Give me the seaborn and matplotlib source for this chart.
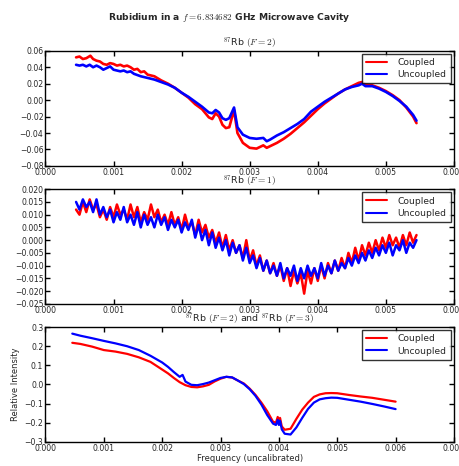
import numpy as np
import pandas as pd
import seaborn as sns
from matplotlib import pyplot as plt

# ---- F=2 panel ----
f2_x_cpl = [0.00045, 0.0005, 0.00055, 0.0006, 0.00066, 0.0007, 0.00075, 0.0008, 0.00085, 0.0009,
            0.00095, 0.001, 0.00105, 0.0011, 0.00115, 0.0012, 0.00125, 0.0013, 0.00135, 0.0014,
            0.00145, 0.0015, 0.0016, 0.0017, 0.0018, 0.0019, 0.002, 0.0021, 0.0022, 0.0023,
            0.00235, 0.0024, 0.00245, 0.0025, 0.00255, 0.0026, 0.00265, 0.0027, 0.00277, 0.00282,
            0.0029, 0.003, 0.0031, 0.0032, 0.00325, 0.0033, 0.0034, 0.0035, 0.0036, 0.0037,
            0.0038, 0.0039, 0.004, 0.0041, 0.0042, 0.0043, 0.0044, 0.0045, 0.0046, 0.00465,
            0.0047, 0.0048, 0.0049, 0.005, 0.0051, 0.0052, 0.0053, 0.0054, 0.00545]
f2_cpl = [0.052, 0.053, 0.050, 0.051, 0.054, 0.050, 0.048, 0.047, 0.044, 0.043,
          0.045, 0.044, 0.042, 0.043, 0.041, 0.042, 0.040, 0.037, 0.038, 0.034,
          0.035, 0.031, 0.029, 0.024, 0.020, 0.015, 0.009, 0.003, -0.005, -0.011,
          -0.016, -0.021, -0.023, -0.016, -0.020, -0.030, -0.034, -0.033, -0.012, -0.040,
          -0.052, -0.058, -0.059, -0.055, -0.058, -0.056, -0.052, -0.047, -0.041, -0.034,
          -0.027, -0.019, -0.011, -0.004, 0.002, 0.008, 0.013, 0.017, 0.021, 0.022,
          0.019, 0.018, 0.015, 0.011, 0.006, 0.000, -0.009, -0.020, -0.028]
f2_x_unc = [0.00045, 0.0005, 0.00055, 0.0006, 0.00065, 0.0007, 0.00075, 0.0008, 0.00085, 0.0009,
            0.00095, 0.001, 0.00105, 0.0011, 0.00115, 0.0012, 0.00125, 0.0013, 0.0014, 0.0015,
            0.0016, 0.0017, 0.0018, 0.0019, 0.002, 0.0021, 0.0022, 0.0023, 0.0024, 0.00245,
            0.0025, 0.00255, 0.0026, 0.00265, 0.0027, 0.00277, 0.00282, 0.0029, 0.003, 0.0031,
            0.0032, 0.00325, 0.0033, 0.0034, 0.0035, 0.0036, 0.0037, 0.0038, 0.0039, 0.004,
            0.0041, 0.0042, 0.0043, 0.0044, 0.0045, 0.0046, 0.00465, 0.0047, 0.0048, 0.0049,
            0.005, 0.0051, 0.0052, 0.0053, 0.0054, 0.00545]
f2_unc = [0.043, 0.042, 0.043, 0.041, 0.043, 0.040, 0.042, 0.040, 0.037, 0.039,
          0.041, 0.037, 0.036, 0.035, 0.036, 0.034, 0.035, 0.032, 0.029, 0.027,
          0.025, 0.022, 0.019, 0.015, 0.009, 0.004, -0.002, -0.008, -0.015, -0.016,
          -0.012, -0.015, -0.022, -0.024, -0.022, -0.009, -0.033, -0.042, -0.046, -0.047,
          -0.046, -0.050, -0.048, -0.043, -0.039, -0.034, -0.029, -0.023, -0.014, -0.008,
          -0.002, 0.003, 0.008, 0.013, 0.016, 0.018, 0.020, 0.017, 0.017, 0.014,
          0.010, 0.005, -0.001, -0.008, -0.018, -0.025]

# ---- F=1 panel (101 samples, 0.00045 .. 0.00545) ----
f1_x = [round(0.00045 + 0.00005 * i, 6) for i in range(101)]
f1_cpl = [0.012, 0.010, 0.015, 0.011, 0.016, 0.012, 0.014, 0.009, 0.012, 0.008,
          0.013, 0.009, 0.014, 0.010, 0.012, 0.008, 0.014, 0.009, 0.013, 0.007,
          0.011, 0.008, 0.014, 0.009, 0.012, 0.007, 0.010, 0.006, 0.011, 0.006,
          0.009, 0.004, 0.010, 0.005, 0.007, 0.002, 0.008, 0.003, 0.006, 0.001,
          0.004, -0.001, 0.003, -0.003, 0.002, -0.004, 0.000, -0.005, -0.002, -0.007,
          0.000, -0.008, -0.004, -0.010, -0.006, -0.012, -0.008, -0.013, -0.009, -0.014,
          -0.010, -0.016, -0.011, -0.018, -0.012, -0.017, -0.013, -0.021, -0.012, -0.017,
          -0.011, -0.016, -0.010, -0.015, -0.009, -0.013, -0.008, -0.012, -0.007, -0.011,
          -0.005, -0.009, -0.003, -0.008, -0.002, -0.006, -0.001, -0.005, 0.000, -0.004,
          0.001, -0.003, 0.002, -0.002, 0.001, -0.003, 0.002, -0.002, 0.003, -0.001,
          0.002]
f1_unc = [0.015, 0.012, 0.016, 0.013, 0.015, 0.011, 0.016, 0.010, 0.013, 0.009,
          0.012, 0.007, 0.011, 0.008, 0.013, 0.007, 0.010, 0.006, 0.011, 0.005,
          0.010, 0.006, 0.009, 0.005, 0.010, 0.006, 0.009, 0.004, 0.008, 0.005,
          0.008, 0.003, 0.007, 0.004, 0.008, 0.001, 0.006, 0.000, 0.004, -0.002,
          0.003, -0.003, 0.001, -0.004, 0.000, -0.006, -0.001, -0.005, -0.002, -0.008,
          -0.003, -0.009, -0.006, -0.011, -0.007, -0.012, -0.008, -0.013, -0.010, -0.014,
          -0.009, -0.015, -0.011, -0.014, -0.010, -0.016, -0.011, -0.015, -0.010, -0.014,
          -0.011, -0.015, -0.009, -0.014, -0.010, -0.013, -0.008, -0.012, -0.009, -0.011,
          -0.007, -0.010, -0.006, -0.009, -0.005, -0.008, -0.004, -0.007, -0.003, -0.006,
          -0.002, -0.005, -0.001, -0.006, -0.002, -0.004, 0.000, -0.005, -0.001, -0.003,
          0.000]

# ---- F=2 and F=3 panel ----
f23_x_cpl = [0.00046, 0.0006, 0.0008, 0.001, 0.0012, 0.0014, 0.0016, 0.0018, 0.002, 0.0021,
             0.0022, 0.0023, 0.0024, 0.0025, 0.0026, 0.0027, 0.0028, 0.0029, 0.003, 0.0031,
             0.0032, 0.0033, 0.0034, 0.0035, 0.0036, 0.0037, 0.0038, 0.0039, 0.00395, 0.00398,
             0.004, 0.00402, 0.00405, 0.0041, 0.0042, 0.0043, 0.0044, 0.0045, 0.0046, 0.0047,
             0.0048, 0.0049, 0.005, 0.0052, 0.0054, 0.0056, 0.0058, 0.006]
f23_cpl = [0.218, 0.212, 0.198, 0.180, 0.172, 0.160, 0.142, 0.118, 0.078, 0.058,
           0.034, 0.012, -0.004, -0.013, -0.015, -0.010, -0.002, 0.016, 0.030, 0.040,
           0.036, 0.020, 0.005, -0.022, -0.055, -0.095, -0.140, -0.195, -0.200, -0.170,
           -0.195, -0.175, -0.220, -0.237, -0.232, -0.180, -0.132, -0.095, -0.065, -0.052,
           -0.046, -0.045, -0.046, -0.055, -0.063, -0.070, -0.080, -0.090]
f23_x_unc = [0.00046, 0.0006, 0.0008, 0.001, 0.0012, 0.0014, 0.0016, 0.0018, 0.002, 0.0021,
             0.0022, 0.0023, 0.00235, 0.0024, 0.0025, 0.0026, 0.0027, 0.0028, 0.0029, 0.003,
             0.0031, 0.0032, 0.0033, 0.0034, 0.0035, 0.0036, 0.0037, 0.0038, 0.0039, 0.00395,
             0.00398, 0.004, 0.00402, 0.00405, 0.0041, 0.0042, 0.0043, 0.0044, 0.0045, 0.0046,
             0.0047, 0.0048, 0.0049, 0.005, 0.0052, 0.0054, 0.0056, 0.0058, 0.006]
f23_unc = [0.266, 0.255, 0.242, 0.228, 0.215, 0.200, 0.180, 0.150, 0.115, 0.092,
           0.065, 0.040, 0.050, 0.015, -0.002, -0.004, 0.002, 0.010, 0.022, 0.034,
           0.040, 0.037, 0.020, 0.002, -0.025, -0.060, -0.105, -0.160, -0.205, -0.212,
           -0.185, -0.212, -0.190, -0.235, -0.258, -0.262, -0.225, -0.175, -0.128, -0.095,
           -0.078, -0.072, -0.069, -0.070, -0.080, -0.090, -0.102, -0.115, -0.129]

labels = ['Coupled', 'Uncoupled']
colors = {'Coupled': '#ff0000', 'Uncoupled': '#0000ff'}

sns.set_theme(style='white', rc={
    'xtick.direction': 'in', 'ytick.direction': 'in',
    'xtick.top': True, 'ytick.right': True,
    'xtick.bottom': True, 'ytick.left': True,
    'xtick.major.size': 3.5, 'ytick.major.size': 3.5,
    'axes.edgecolor': 'black', 'axes.linewidth': 1.0,
    'mathtext.fontset': 'cm',
})
plt.rcParams['font.family'] = ['DejaVu Sans']

fig = plt.figure(figsize=(4.59, 4.66), dpi=100)
boxes = [[0.099, 0.644, 0.89, 0.247],
         [0.099, 0.348, 0.89, 0.246],
         [0.099, 0.052, 0.89, 0.246]]

panels = [
    (f2_x_cpl, f2_cpl, f2_x_unc, f2_unc, r'$^{87}$Rb $(F=2)$', (-0.08, 0.06),
     [-0.08, -0.06, -0.04, -0.02, 0.0, 0.02, 0.04, 0.06], '%.2f', 0.006, 1.9),
    (f1_x, f1_cpl, f1_x, f1_unc, r'$^{87}$Rb $(F=1)$', (-0.025, 0.02),
     [-0.025, -0.02, -0.015, -0.01, -0.005, 0.0, 0.005, 0.01, 0.015, 0.02], '%.3f', 0.006, 1.8),
    (f23_x_cpl, f23_cpl, f23_x_unc, f23_unc, r'$^{87}$Rb $(F=2)$ and $^{87}$Rb $(F=3)$', (-0.3, 0.3),
     [-0.3, -0.2, -0.1, 0.0, 0.1, 0.2, 0.3], '%.1f', 0.007, 1.6),
]

for box, (xc, yc, xu, yu, title, ylim, yt, yfmt, xmax, lw) in zip(boxes, panels):
    ax = fig.add_axes(box)
    df = pd.concat([
        pd.DataFrame({'x': xc, 'y': yc, 'kind': 'Coupled'}),
        pd.DataFrame({'x': xu, 'y': yu, 'kind': 'Uncoupled'}),
    ])
    sns.lineplot(data=df, x='x', y='y', hue='kind', hue_order=labels, palette=colors,
                 estimator=None, lw=lw, ax=ax)
    ax.set_xlim(0, xmax)
    ax.set_ylim(*ylim)
    ax.set_yticks(yt)
    ax.set_yticklabels([(yfmt % v).replace('-', '\u2212') for v in yt])
    nx = int(round(xmax * 1000)) + 1
    ax.set_xticks([i * 0.001 for i in range(nx)])
    ax.set_xticklabels(['%.3f' % (i * 0.001) for i in range(nx)])
    ax.tick_params(labelsize=5.6, pad=1.5, width=1, color='black')
    ax.set_xlabel('')
    ax.set_ylabel('')
    ax.set_title(title, fontsize=6.8, pad=2)
    leg = ax.legend(loc='upper right', fontsize=6.6, frameon=True, fancybox=False,
                    borderaxespad=0.35, handlelength=2.2, labelspacing=0.35,
                    handletextpad=1.2, borderpad=0.45)
    leg.get_frame().set_edgecolor('black')
    leg.get_frame().set_linewidth(1.0)
    for h in leg.get_lines():
        h.set_linewidth(1.5)
    last = ax

last.set_xlabel('Frequency (uncalibrated)', fontsize=6, labelpad=1)
last.set_ylabel('Relative Intensity', fontsize=6, labelpad=3)

fig.suptitle(r'Rubidium in a $f = 6.834682$ GHz Microwave Cavity', fontsize=6.6,
             fontweight='bold', y=0.977)

fig.savefig('out.png', dpi=100)
